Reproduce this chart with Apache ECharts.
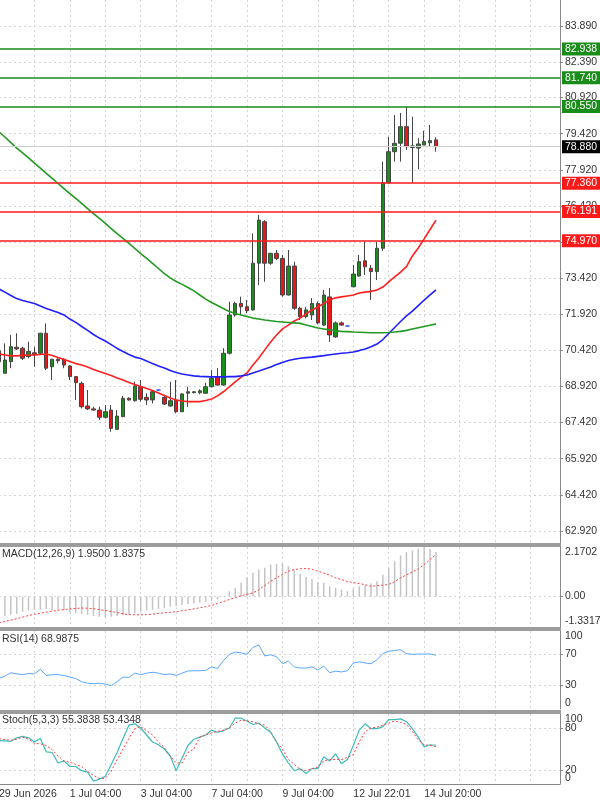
<!DOCTYPE html>
<html><head><meta charset="utf-8">
<script src="https://cdn.jsdelivr.net/npm/echarts@6/dist/echarts.min.js"></script>
<style>html,body{margin:0;padding:0;background:#fff}#c{width:600px;height:802px}</style>
</head><body><div id="c"></div>
<script>
const timeLabels = ['29 Jun 2026', '1 Jul 04:00', '3 Jul 04:00', '7 Jul 04:00', '9 Jul 04:00', '12 Jul 22:01', '14 Jul 20:00'];
const timeLabelBars = [0, 12, 24, 36, 48, 60, 72];

const opens = [70.40, 69.47, 69.95, 70.55, 70.51, 70.16, 70.32, 70.30, 71.13, 69.74,
 70.05, 70.05, 69.77, 69.33, 69.05, 68.11, 67.99, 67.94, 67.64, 67.94,
 67.14, 67.67, 68.43, 68.33, 68.91, 68.47, 68.36, 68.77, 68.47, 68.11,
 68.36, 67.87, 68.64, 68.66, 68.66, 68.64, 68.91, 69.33, 68.98, 70.30,
 71.89, 72.37, 72.23, 72.10, 74.04, 75.76, 74.04, 74.45, 74.24, 72.72,
 73.92, 72.17, 71.82, 71.89, 72.37, 71.47, 72.64, 70.98, 71.56, 71.43,
 73.06, 73.51, 74.14, 73.83, 73.69, 74.66, 77.38, 78.67, 79.02, 79.71,
 78.91, 78.82, 78.95, 79.04, 79.16];
const closes = [69.95, 70.02, 70.57, 70.48, 70.09, 70.37, 70.23, 71.13, 69.68, 70.05,
 69.99, 69.81, 69.33, 69.08, 68.08, 67.99, 67.94, 67.64, 67.87, 67.18,
 67.69, 68.43, 68.36, 68.94, 68.39, 68.36, 68.70, 68.77, 68.19, 68.33,
 67.87, 68.61, 68.70, 68.70, 68.74, 68.91, 69.26, 68.98, 70.30, 71.89,
 72.37, 72.23, 72.07, 74.04, 75.83, 74.04, 74.45, 74.24, 72.72, 73.92,
 72.17, 71.82, 72.10, 72.37, 71.56, 72.72, 71.06, 71.56, 71.47, 71.43,
 73.59, 74.10, 73.89, 73.69, 74.66, 77.38, 78.67, 79.02, 79.71, 78.88,
 78.84, 78.99, 79.09, 79.13, 78.88];
const highs = [70.60, 70.71, 71.06, 71.13, 70.57, 70.78, 70.57, 71.15, 71.54, 70.07,
 70.09, 70.09, 69.81, 69.35, 69.12, 68.77, 68.08, 68.08, 68.15, 68.15,
 67.94, 68.53, 68.47, 69.12, 69.19, 68.64, 68.77, 68.80, 68.57, 69.12,
 69.19, 68.64, 68.91, 68.72, 68.80, 69.07, 69.60, 69.68, 70.51, 72.44,
 72.44, 72.65, 72.51, 75.28, 76.04, 75.83, 74.47, 74.59, 74.38, 74.59,
 74.10, 72.23, 72.23, 72.59, 72.45, 72.93, 73.01, 71.62, 71.62, 71.45,
 73.97, 74.38, 74.93, 73.97, 74.93, 78.26, 79.29, 80.19, 80.28, 80.54,
 80.12, 79.23, 79.54, 79.78, 79.27];
const lows = [69.90, 69.45, 69.68, 70.44, 70.02, 70.09, 69.74, 70.23, 69.60, 69.19,
 69.88, 69.68, 69.19, 68.36, 68.01, 67.94, 67.92, 67.53, 67.59, 67.04,
 67.11, 67.64, 68.33, 68.29, 68.29, 68.15, 68.22, 68.75, 68.15, 68.08,
 67.81, 67.87, 68.08, 68.64, 68.60, 68.62, 68.88, 68.95, 68.95, 70.25,
 71.82, 71.89, 71.96, 72.07, 73.13, 73.27, 73.97, 74.17, 72.65, 72.70,
 72.10, 71.68, 71.75, 71.68, 71.50, 71.43, 70.77, 70.94, 71.43, 71.41,
 73.04, 73.48, 73.55, 72.51, 73.34, 74.55, 77.36, 78.26, 78.26, 78.74,
 77.38, 77.94, 78.95, 78.88, 78.67];

const maFast = [70.27, 70.23, 70.19, 70.19, 70.21, 70.23, 70.23, 70.25, 70.27, 70.21,
 70.12, 70.04, 69.96, 69.87, 69.81, 69.73, 69.63, 69.54, 69.46, 69.38,
 69.27, 69.19, 69.09, 69.00, 68.92, 68.84, 68.75, 68.65, 68.55, 68.44,
 68.36, 68.32, 68.29, 68.29, 68.29, 68.34, 68.40, 68.53, 68.70, 68.90,
 69.11, 69.31, 69.48, 69.81, 70.10, 70.44, 70.77, 71.06, 71.31, 71.47,
 71.64, 71.76, 71.93, 72.10, 72.22, 72.37, 72.51, 72.60, 72.64, 72.68,
 72.72, 72.80, 72.84, 72.87, 72.93, 73.05, 73.26, 73.47, 73.67, 73.90,
 74.34, 74.67, 75.05, 75.44, 75.83];
const maMid = [72.97, 72.84, 72.70, 72.57, 72.49, 72.43, 72.37, 72.26, 72.16, 72.08,
 71.99, 71.89, 71.72, 71.58, 71.41, 71.25, 71.08, 70.93, 70.81, 70.66,
 70.50, 70.37, 70.25, 70.14, 70.08, 69.98, 69.87, 69.77, 69.69, 69.58,
 69.50, 69.44, 69.40, 69.36, 69.34, 69.33, 69.32, 69.32, 69.32, 69.33,
 69.33, 69.36, 69.40, 69.48, 69.56, 69.65, 69.73, 69.83, 69.92, 70.00,
 70.05, 70.09, 70.12, 70.14, 70.17, 70.20, 70.24, 70.27, 70.30, 70.32,
 70.35, 70.41, 70.48, 70.57, 70.68, 70.87, 71.12, 71.37, 71.62, 71.85,
 72.05, 72.28, 72.51, 72.72, 72.93];
const maSlow = [79.49, 79.28, 79.05, 78.82, 78.62, 78.41, 78.20, 77.99, 77.77, 77.56,
 77.35, 77.14, 76.93, 76.73, 76.52, 76.31, 76.10, 75.90, 75.69, 75.48,
 75.27, 75.07, 74.86, 74.65, 74.44, 74.24, 74.03, 73.82, 73.61, 73.43,
 73.28, 73.16, 73.03, 72.89, 72.72, 72.55, 72.41, 72.28, 72.16, 72.03,
 71.95, 71.89, 71.83, 71.76, 71.72, 71.68, 71.65, 71.62, 71.60, 71.58,
 71.56, 71.54, 71.47, 71.41, 71.35, 71.31, 71.27, 71.23, 71.21, 71.20,
 71.18, 71.17, 71.16, 71.15, 71.15, 71.15, 71.16, 71.18, 71.21, 71.25,
 71.31, 71.36, 71.41, 71.46, 71.52];

const macdMain = [-0.88, -0.85, -0.80, -0.76, -0.66, -0.61, -0.58, -0.58, -0.54, -0.61,
 -0.58, -0.61, -0.70, -0.73, -0.76, -0.80, -0.85, -0.88, -0.91, -0.88,
 -0.85, -0.82, -0.79, -0.73, -0.66, -0.61, -0.58, -0.54, -0.51, -0.44,
 -0.41, -0.37, -0.32, -0.29, -0.26, -0.23, -0.19, -0.12, 0.02, 0.23,
 0.38, 0.60, 0.82, 1.04, 1.18, 1.26, 1.40, 1.43, 1.45, 1.33,
 1.18, 0.99, 0.86, 0.77, 0.63, 0.60, 0.45, 0.38, 0.31, 0.23,
 0.34, 0.45, 0.50, 0.57, 0.67, 0.96, 1.26, 1.55, 1.80, 1.95,
 2.02, 2.10, 2.17, 2.08, 1.95];
const macdSignal = [-1.15, -1.09, -1.03, -0.97, -0.90, -0.83, -0.78, -0.73, -0.68, -0.64,
 -0.60, -0.57, -0.54, -0.52, -0.50, -0.51, -0.53, -0.57, -0.61, -0.65,
 -0.70, -0.75, -0.79, -0.80, -0.80, -0.79, -0.77, -0.74, -0.71, -0.69,
 -0.66, -0.62, -0.58, -0.54, -0.49, -0.44, -0.39, -0.30, -0.22, -0.13,
 -0.05, 0.04, 0.10, 0.16, 0.30, 0.48, 0.67, 0.82, 0.97, 1.11,
 1.18, 1.22, 1.23, 1.20, 1.11, 1.03, 0.94, 0.82, 0.74, 0.66,
 0.61, 0.57, 0.52, 0.45, 0.48, 0.50, 0.53, 0.65, 0.82, 0.95,
 1.08, 1.21, 1.40, 1.62, 1.84];

const rsi = [39.5, 42, 46.5, 45, 44, 45.5, 45, 51, 43, 44,
 44, 43, 41, 39, 35, 33, 32.5, 33, 32, 30,
 35, 41, 40.5, 46, 44, 46, 47, 46, 44, 45,
 43, 46, 48.8, 49, 49, 49.5, 54, 52, 62, 70,
 73, 72, 70, 79, 82, 68, 69.5, 67, 58, 61.5,
 54, 52.5, 52.5, 54, 50, 55, 46.5, 48.5, 47.5, 49,
 59, 60.5, 59, 58, 63, 71, 74, 75, 76, 71,
 70, 70.5, 70.5, 70.5, 68.99];

const stochK = [62, 61.5, 61, 66, 68, 66, 60, 65, 46, 45,
 30, 33, 25, 25, 19, 17, 4, 7, 11, 28,
 45, 65, 84, 86, 80, 70, 60, 56, 50, 40,
 19, 37, 55, 64, 67, 70, 77, 74, 76, 80,
 94, 94, 90, 85, 87, 80, 74, 60, 43, 30,
 19, 22, 15, 22, 22, 39, 33, 43, 29, 35,
 55, 77, 86, 79, 79, 82, 92, 92, 93, 89,
 79, 67, 53, 56, 55.38];
const stochD = [64.7, 63.5, 62.5, 64, 67, 64, 58, 57.4, 55, 49,
 40, 33, 31, 28, 25, 18, 12, 8, 8, 18,
 35, 50, 65, 79, 82, 76, 70, 60, 52, 40,
 30, 30, 45, 50, 67, 70, 73, 75, 77, 80,
 87, 91, 90, 89, 86, 84, 75, 60, 50, 35,
 28, 21, 19, 22, 24, 33, 35, 35, 35, 38,
 42, 60, 75, 80, 81, 84, 87, 90, 88, 85,
 75, 63, 56, 55, 53.43];

const priceTicks = [62.92, 64.42, 65.92, 67.42, 68.92, 70.42, 71.92, 73.42, 74.92, 76.42, 77.92, 79.42, 80.92, 82.39, 83.89];
const resistanceLevels = [82.938, 81.740, 80.550];
const supportLevels = [77.360, 76.191, 74.970];
const lastPrice = 78.880;
const macdTicks = [-1.3317, 0, 2.1702];
const oscEdgeLabels = [0, 100];
const rsiLevels = [30, 70];
const stochLevels = [20, 80];
const titles = ['MACD(12,26,9) 1.9500 1.8375', 'RSI(14) 68.9875', 'Stoch(5,3,3) 55.3838 53.4348'];

const FONT = 'Liberation Sans';
const FS = 10.5;
const TXT = '#333333';
const N = 96;
const cats = Array.from({length: N}, (_, i) => String(i));
const gridStyle = {color: '#d4d4d4', type: [2, 3], width: 1};
const axisGray = '#888888';

const grids = [
  {left: -1, right: 40, top: 0, height: 543},
  {left: -1, right: 40, top: 547, height: 80},
  {left: -1, right: 40, top: 631, height: 78},
  {left: -1, right: 40, top: 714, height: 70}
].map(g => Object.assign(g, {outerBoundsMode: 'none', containLabel: false}));

function xAx(gi, showLabels) {
  return {
    type: 'category', gridIndex: gi, data: cats, boundaryGap: false,
    axisLine: {show: showLabels, lineStyle: {color: axisGray}},
    axisTick: {show: false},
    axisLabel: showLabels ? {
      show: true, interval: (i) => timeLabelBars.indexOf(i) >= 0,
      formatter: (v, i) => timeLabels[timeLabelBars.indexOf(Number(v))] || '',
      align: 'left', margin: 5, fontSize: FS, fontFamily: FONT, color: TXT
    } : {show: false},
    splitLine: {show: true, interval: (i) => i % 6 === 0, lineStyle: gridStyle}
  };
}

function yAx(gi, min, max, labels, ticks, fmt, edgeAlign) {
  const lab = {show: true, customValues: labels, formatter: fmt, margin: 5,
      fontSize: FS, fontFamily: FONT, color: TXT, showMinLabel: true, showMaxLabel: true,
      hideOverlap: false};
  if (edgeAlign) { lab.verticalAlignMinLabel = 'bottom'; lab.verticalAlignMaxLabel = 'top'; }
  return {
    type: 'value', gridIndex: gi, position: 'right', min: min, max: max,
    axisLine: {show: true, lineStyle: {color: axisGray}},
    axisTick: {show: true, customValues: ticks, length: 3, lineStyle: {color: axisGray}},
    axisLabel: lab,
    splitLine: {show: true, lineStyle: gridStyle}
  };
}

// secondary axis in an oscillator panel, carrying only its 0 / 100 edge labels
function edgeAx(gi) {
  return {
    type: 'value', gridIndex: gi, position: 'right', offset: 0, min: 0, max: 100,
    axisLine: {show: false}, axisTick: {show: false}, splitLine: {show: false},
    axisLabel: {show: true, customValues: oscEdgeLabels, formatter: v => String(v), margin: 5,
      fontSize: FS, fontFamily: FONT, color: TXT, showMinLabel: true, showMaxLabel: true,
      verticalAlignMinLabel: 'bottom', verticalAlignMaxLabel: 'top'}
  };
}

const levelLine = (v, color) => ({
  yAxis: v,
  lineStyle: {color: color, width: 1.5, type: 'solid'},
  label: {backgroundColor: color}
});

const option = {
  animation: false,
  backgroundColor: '#ffffff',
  grid: grids,
  title: titles.map((t, i) => ({
    text: t, left: 2, top: [549, 634, 715][i], padding: 0,
    textStyle: {fontSize: FS, fontWeight: 'normal', color: TXT, fontFamily: FONT}
  })),
  xAxis: [xAx(0, false), xAx(1, false), xAx(2, false), xAx(3, true)],
  yAxis: [
    yAx(0, 62.42, 84.97, priceTicks, priceTicks, v => v.toFixed(3), false),
    yAx(1, -1.3317, 2.1702, macdTicks, [0], v => (v === 0 ? '0.00' : v.toFixed(4)), true),
    yAx(2, 0, 100, rsiLevels, rsiLevels, v => String(v), false),
    yAx(3, 0, 100, stochLevels, stochLevels, v => String(v), false),
    edgeAx(2),
    edgeAx(3)
  ],
  graphic: [
    {type: 'rect', shape: {x: 0, y: 543, width: 561, height: 4}, style: {fill: '#9c9c9c'}, silent: true, z: 100},
    {type: 'rect', shape: {x: 0, y: 627, width: 561, height: 4}, style: {fill: '#9c9c9c'}, silent: true, z: 100},
    {type: 'rect', shape: {x: 0, y: 710, width: 561, height: 4}, style: {fill: '#9c9c9c'}, silent: true, z: 100}
  ],
  series: [
    {
      type: 'candlestick', xAxisIndex: 0, yAxisIndex: 0, barWidth: 4,
      data: opens.map((o, i) => [o, closes[i], lows[i], highs[i]]),
      itemStyle: {color: '#1c8c1c', color0: '#e81818', borderColor: '#454545', borderColor0: '#454545', borderWidth: 1, borderColorDoji: '#3355ff'},
      markLine: {
        symbol: ['none', 'none'], silent: true, animation: false, precision: 3,
        label: {show: true, position: 'end', distance: 2, formatter: p => Number(p.value).toFixed(3),
          color: '#ffffff', fontSize: FS, fontFamily: FONT, padding: [1, 3, 1, 3]},
        data: [
          ...resistanceLevels.map(v => levelLine(v, '#1a8c1a')),
          ...supportLevels.map(v => levelLine(v, '#ff1a1a')),
          {yAxis: lastPrice, lineStyle: {color: '#cfcfcf', width: 1, type: 'solid'}, label: {backgroundColor: '#000000'}}
        ]
      }
    },
    {type: 'line', xAxisIndex: 0, yAxisIndex: 0, data: maFast, showSymbol: false, lineStyle: {color: '#ff2020', width: 1.6}},
    {type: 'line', xAxisIndex: 0, yAxisIndex: 0, data: maMid, showSymbol: false, lineStyle: {color: '#2020ff', width: 1.6}},
    {type: 'line', xAxisIndex: 0, yAxisIndex: 0, data: maSlow, showSymbol: false, lineStyle: {color: '#239a23', width: 1.6}},
    {type: 'bar', xAxisIndex: 1, yAxisIndex: 1, data: macdMain, barWidth: 1.5, itemStyle: {color: '#c4c4c4'}},
    {type: 'line', xAxisIndex: 1, yAxisIndex: 1, data: macdSignal, showSymbol: false, lineStyle: {color: '#ff4040', width: 1, type: [2, 2]}},
    {type: 'line', xAxisIndex: 2, yAxisIndex: 2, data: rsi, showSymbol: false, lineStyle: {color: '#5aa8ff', width: 1}},
    {type: 'line', xAxisIndex: 3, yAxisIndex: 3, data: stochK, showSymbol: false, lineStyle: {color: '#3cbcbc', width: 1.2}},
    {type: 'line', xAxisIndex: 3, yAxisIndex: 3, data: stochD, showSymbol: false, lineStyle: {color: '#ff4040', width: 1, type: [2, 2]}}
  ]
};

const chart = echarts.init(document.getElementById('c'), null, {renderer: 'canvas'});
chart.setOption(option);
</script>
</body></html>
